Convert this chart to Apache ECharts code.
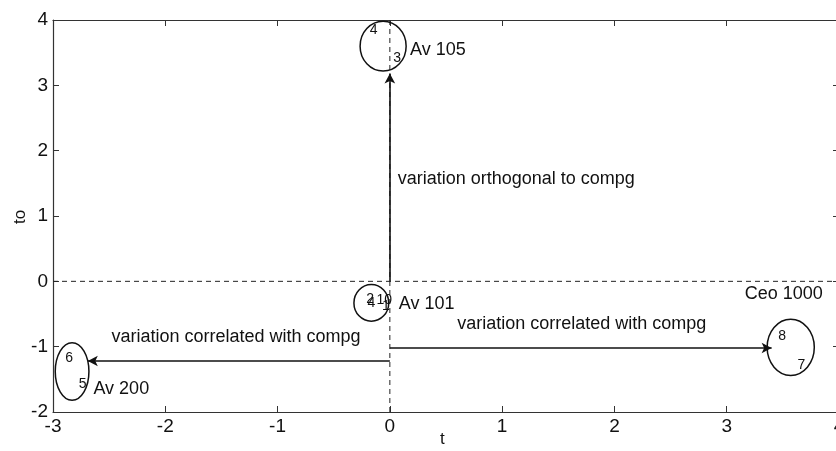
<!DOCTYPE html>
<html>
<head>
<meta charset="utf-8">
<script src="https://cdn.jsdelivr.net/npm/echarts@6/dist/echarts.min.js"></script>
<style>
  html, body { margin: 0; padding: 0; background: #fff; }
  #chart { width: 836px; height: 451px; }
</style>
</head>
<body>
<div id="chart"></div>
<script>
// axis ranges / ticks
const xRange = [-3, 4];
const yRange = [-2, 4];
const xName = 't';
const yName = 'to';

// dashed reference lines [x0, y0, x1, y1]
const refLines = [
  [-3, 0, 4, 0],
  [0, -2, 0, 4]
];

// arrows [x0, y0, x1, y1]
const arrows = [
  [0, 0, 0, 3.18],
  [0, -1.22, -2.69, -1.22],
  [0, -1.02, 3.40, -1.02]
];

// ellipses [cx, cy, rx, ry] in data units
const ellipses = [
  [-0.06, 3.6, 0.205, 0.38],
  [-0.165, -0.33, 0.155, 0.28],
  [-2.83, -1.38, 0.15, 0.44],
  [3.57, -1.01, 0.21, 0.43]
];

// big annotations [x, y, text]
const labels = [
  [0.18, 3.54, 'Av 105'],
  [0.07, 1.56, 'variation orthogonal to compg'],
  [0.08, -0.34, 'Av 101'],
  [3.16, -0.2, 'Ceo 1000'],
  [0.6, -0.66, 'variation correlated with compg'],
  [-2.48, -0.86, 'variation correlated with compg'],
  [-2.64, -1.65, 'Av 200']
];

// point numbers [x, y, text]
const pointNums = [
  [-0.18, 3.84, '4'],
  [0.03, 3.41, '3'],
  [-2.89, -1.18, '6'],
  [-2.77, -1.58, '5'],
  [3.46, -0.84, '8'],
  [3.63, -1.29, '7'],
  [-0.21, -0.27, '2'],
  [-0.2, -0.33, '4'],
  [-0.12, -0.29, '10'],
  [-0.07, -0.38, '1']
];

const FONT = 'Liberation Sans, Arial, sans-serif';
const axisColor = '#333';

const chart = echarts.init(document.getElementById('chart'), null, { renderer: 'canvas' });

function baseAxis(extra) {
  return Object.assign({
    type: 'value',
    interval: 1,
    axisLine: { show: true, onZero: false, lineStyle: { color: axisColor, width: 1.2 } },
    axisTick: { show: true, inside: true, length: 6, lineStyle: { color: axisColor } },
    splitLine: { show: false }
  }, extra);
}

function textSeries(data, fontSize) {
  return {
    type: 'custom',
    silent: true,
    data: data,
    z: 5,
    renderItem: function (params, api) {
      const p = api.coord([api.value(0), api.value(1)]);
      return {
        type: 'text',
        x: p[0],
        y: p[1],
        style: {
          text: data[params.dataIndex][2],
          font: fontSize + 'px ' + FONT,
          fill: '#111',
          align: 'left',
          verticalAlign: 'middle'
        }
      };
    }
  };
}

const option = {
  animation: false,
  backgroundColor: '#fff',
  grid: { left: 53, top: 20, width: 786, height: 392, containLabel: false, outerBoundsMode: 'none' },
  graphic: [
    {
      type: 'text', left: 440, top: 431,
      style: { text: xName, font: '17px ' + FONT, fill: '#111' }
    },
    {
      type: 'text', x: 12, y: 224, rotation: Math.PI / 2,
      style: { text: yName, font: '17px ' + FONT, fill: '#111' }
    }
  ],
  xAxis: [
    baseAxis({
      min: xRange[0], max: xRange[1], position: 'bottom',
      axisLabel: { fontFamily: FONT, fontSize: 19, color: '#111', margin: 5 }
    }),
    baseAxis({
      min: xRange[0], max: xRange[1], position: 'top',
      axisLabel: { show: false }
    })
  ],
  yAxis: [
    baseAxis({
      min: yRange[0], max: yRange[1], position: 'left',
      axisLabel: { fontFamily: FONT, fontSize: 19, color: '#111', margin: 5 }
    }),
    baseAxis({
      min: yRange[0], max: yRange[1], position: 'right',
      axisLabel: { show: false }
    })
  ],
  series: [
    // dashed reference lines
    ...refLines.map(l => ({
      type: 'line',
      silent: true,
      symbol: 'none',
      data: [[l[0], l[1]], [l[2], l[3]]],
      lineStyle: { color: '#222', width: 1, type: [5, 4] },
      z: 2
    })),
    // arrows
    {
      type: 'line',
      silent: true,
      symbol: 'none',
      data: [],
      markLine: {
        silent: true,
        symbol: ['none', 'arrow'],
        symbolSize: [8, 10],
        label: { show: false },
        lineStyle: { color: '#111', width: 1.6, type: 'solid' },
        data: arrows.map(a => [{ coord: [a[0], a[1]] }, { coord: [a[2], a[3]] }])
      },
      z: 3
    },
    // ellipses
    {
      type: 'custom',
      silent: true,
      data: ellipses,
      z: 4,
      renderItem: function (params, api) {
        const c = api.coord([api.value(0), api.value(1)]);
        const s = api.size([api.value(2), api.value(3)]);
        return {
          type: 'ellipse',
          shape: { cx: c[0], cy: c[1], rx: s[0], ry: s[1] },
          style: { fill: 'none', stroke: '#111', lineWidth: 1.5 }
        };
      }
    },
    textSeries(labels, 18),
    textSeries(pointNums, 14)
  ]
};

chart.setOption(option);
</script>
</body>
</html>
